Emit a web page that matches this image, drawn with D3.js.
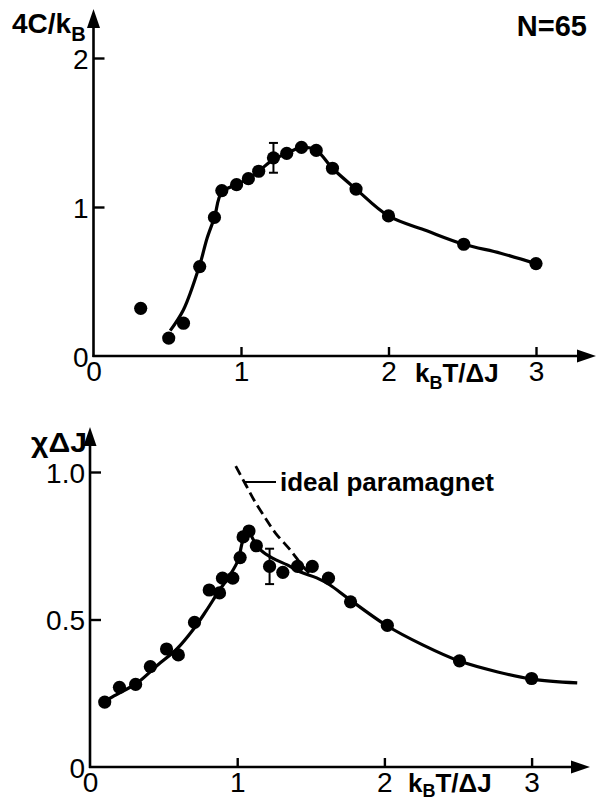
<!DOCTYPE html>
<html>
<head>
<meta charset="utf-8">
<script src="https://cdn.jsdelivr.net/npm/d3@7"></script>
<style>
  html, body { margin: 0; padding: 0; background: #fff; }
  svg { display: block; }
  .tick text { font-family: "Liberation Sans Narrow", "Liberation Sans", sans-serif; font-size: 28px; fill: #000; }
  .title { font-family: "Liberation Sans", "DejaVu Sans", sans-serif; font-weight: bold; fill: #000; }
</style>
</head>
<body>
<svg id="chart" width="598" height="801"></svg>
<script>
// ---------- Data ----------
// Top panel: specific heat 4C/kB vs kBT/ΔJ
const heatX = [0.32, 0.51, 0.61, 0.72, 0.82, 0.87, 0.97, 1.05, 1.12, 1.22, 1.31, 1.41, 1.51, 1.62, 1.78, 2.0, 2.51, 3.0];
const heatY = [0.32, 0.12, 0.22, 0.60, 0.93, 1.11, 1.15, 1.19, 1.24, 1.33, 1.36, 1.40, 1.38, 1.26, 1.12, 0.94, 0.75, 0.62];
const heatErrX = [1.22];
const heatErrLo = [1.23];
const heatErrHi = [1.43];
const heatFitX = [0.52, 0.61, 0.72, 0.77, 0.82, 0.87, 0.97, 1.05, 1.12, 1.22, 1.31, 1.41, 1.51, 1.62, 1.78, 2.0, 2.26, 2.51, 2.76, 3.0];
const heatFitY = [0.17, 0.31, 0.61, 0.79, 0.93, 1.10, 1.15, 1.19, 1.24, 1.32, 1.36, 1.40, 1.38, 1.26, 1.12, 0.94, 0.84, 0.75, 0.69, 0.62];

// Bottom panel: susceptibility χΔJ vs kBT/ΔJ
const chiX = [0.10, 0.20, 0.31, 0.41, 0.52, 0.60, 0.71, 0.81, 0.88, 0.90, 0.97, 1.02, 1.04, 1.08, 1.13, 1.22, 1.31, 1.41, 1.51, 1.62, 1.77, 2.02, 2.51, 3.0];
const chiY = [0.22, 0.27, 0.28, 0.34, 0.40, 0.38, 0.49, 0.60, 0.59, 0.64, 0.64, 0.71, 0.78, 0.80, 0.75, 0.68, 0.66, 0.68, 0.68, 0.64, 0.56, 0.48, 0.36, 0.30];
const chiErrX = [1.22];
const chiErrLo = [0.62];
const chiErrHi = [0.74];
const chiFitX = [0.10, 0.14, 0.32, 0.46, 0.59, 0.70, 0.79, 0.88, 0.95, 1.005, 1.04, 1.075, 1.11, 1.16, 1.24, 1.34, 1.43, 1.54, 1.63, 1.75, 2.02, 2.26, 2.51, 2.77, 3.0, 3.31];
const chiFitY = [0.22, 0.234, 0.285, 0.346, 0.40, 0.465, 0.53, 0.60, 0.65, 0.70, 0.77, 0.80, 0.77, 0.735, 0.708, 0.685, 0.661, 0.641, 0.617, 0.573, 0.478, 0.414, 0.359, 0.322, 0.298, 0.285];
const idealX = [0.99, 1.06, 1.12, 1.19, 1.26, 1.36, 1.45, 1.50];
const idealY = [1.02, 0.955, 0.90, 0.845, 0.793, 0.736, 0.678, 0.652];

// Tick labels
const heatYTicks = [0, 1, 2];
const chiYTicks = [0, 0.5, 1.0];
const xTicks = [0, 1, 2, 3];

// ---------- Drawing ----------
const svg = d3.select("#chart");

function drawPanel(cfg) {
  const g = svg.append("g");
  const x = d3.scaleLinear().domain([0, 3]).range(cfg.xRange);
  const y = d3.scaleLinear().domain(cfg.yDomain).range(cfg.yRange);
  const x0 = x(0), y0 = y(0);

  // axis lines with arrows
  g.append("line").attr("x1", x0).attr("y1", y0 + 1).attr("x2", x0).attr("y2", cfg.yTip + 14)
    .attr("stroke", "#000").attr("stroke-width", 2.6);
  g.append("path").attr("d", `M${x0},${cfg.yTip} L${x0 - 6.5},${cfg.yTip + 19} L${x0 + 6.5},${cfg.yTip + 19} Z`).attr("fill", "#000");
  g.append("line").attr("x1", x0 - 1).attr("y1", y0).attr("x2", cfg.xTip - 14).attr("y2", y0)
    .attr("stroke", "#000").attr("stroke-width", 2.6);
  g.append("path").attr("d", `M${cfg.xTip},${y0} L${cfg.xTip - 19},${y0 - 6.5} L${cfg.xTip - 19},${y0 + 6.5} Z`).attr("fill", "#000");

  // y axis ticks
  const ya = g.append("g").attr("transform", `translate(${x0},0)`)
    .call(d3.axisLeft(y).tickValues(cfg.yTicks).tickFormat(cfg.yFmt).tickSizeInner(-11).tickSizeOuter(0).tickPadding(5));
  ya.select(".domain").remove();
  ya.selectAll(".tick line").attr("stroke", "#000").attr("stroke-width", 2.4)
    .attr("display", d => d === 0 ? "none" : null);
  ya.selectAll(".tick text").attr("dy", "0.36em").attr("text-anchor", "end");

  // x axis ticks
  const xa = g.append("g").attr("transform", `translate(0,${y0})`)
    .call(d3.axisBottom(x).tickValues(xTicks).tickFormat(d3.format("d")).tickSizeInner(-9).tickSizeOuter(0).tickPadding(5));
  xa.select(".domain").remove();
  xa.selectAll(".tick line").attr("stroke", "#000").attr("stroke-width", 2.4)
    .attr("display", d => d === 0 ? "none" : null);

  // fit curve
  const line = d3.line().x(d => x(d[0])).y(d => y(d[1])).curve(d3.curveCatmullRom.alpha(0.5));
  g.append("path").datum(cfg.fitX.map((v, i) => [v, cfg.fitY[i]]))
    .attr("d", line).attr("fill", "none").attr("stroke", "#000").attr("stroke-width", 3.2);

  if (cfg.idealX) {
    g.append("path").datum(cfg.idealX.map((v, i) => [v, cfg.idealY[i]]))
      .attr("d", line).attr("fill", "none").attr("stroke", "#000").attr("stroke-width", 2.8)
      .attr("stroke-dasharray", "10,5");
  }

  // error bars
  cfg.errX.forEach((v, i) => {
    const xx = x(v), yl = y(cfg.errLo[i]), yh = y(cfg.errHi[i]);
    g.append("line").attr("x1", xx).attr("x2", xx).attr("y1", yl).attr("y2", yh).attr("stroke", "#000").attr("stroke-width", 2);
    g.append("line").attr("x1", xx - 4.5).attr("x2", xx + 4.5).attr("y1", yl).attr("y2", yl).attr("stroke", "#000").attr("stroke-width", 2);
    g.append("line").attr("x1", xx - 4.5).attr("x2", xx + 4.5).attr("y1", yh).attr("y2", yh).attr("stroke", "#000").attr("stroke-width", 2);
  });

  // data points
  g.selectAll("circle.pt").data(cfg.px.map((v, i) => [v, cfg.py[i]])).enter()
    .append("circle").attr("class", "pt")
    .attr("cx", d => x(d[0])).attr("cy", d => y(d[1])).attr("r", 6.6).attr("fill", "#000");

  // x title
  const xt = g.append("text").attr("class", "title").attr("x", cfg.xTitleX).attr("y", cfg.xTitleY).attr("font-size", 26);
  xt.append("tspan").text("k");
  xt.append("tspan").attr("font-size", 18).attr("dy", cfg.subDy).text("B");
  xt.append("tspan").attr("dy", -cfg.subDy).text("T/ΔJ");
  return { x, y, g };
}

const heatPanel = drawPanel({
  xRange: [93.5, 536], yDomain: [0, 2], yRange: [356, 58],
  yTip: 9, xTip: 596, yTicks: heatYTicks, yFmt: d3.format("d"),
  fitX: heatFitX, fitY: heatFitY, px: heatX, py: heatY,
  errX: heatErrX, errLo: heatErrLo, errHi: heatErrHi,
  xTitleX: 415, xTitleY: 382, subDy: 7
});

const chiPanel = drawPanel({
  xRange: [90, 531.6], yDomain: [0, 1], yRange: [767, 472],
  yTip: 427, xTip: 590, yTicks: chiYTicks, yFmt: d => d === 0 ? "0" : d3.format(".1f")(d),
  fitX: chiFitX, fitY: chiFitY, px: chiX, py: chiY,
  errX: chiErrX, errLo: chiErrLo, errHi: chiErrHi,
  idealX: idealX, idealY: idealY,
  xTitleX: 408, xTitleY: 792, subDy: 5
});

// y titles
const yt1 = svg.append("text").attr("class", "title").attr("x", 12).attr("y", 33).attr("font-size", 28);
yt1.append("tspan").text("4C/k");
yt1.append("tspan").attr("font-size", 20).attr("dy", 8).text("B");

svg.append("text").attr("class", "title").attr("x", 31).attr("y", 452).attr("font-size", 28)
  .attr("textLength", 56).attr("lengthAdjust", "spacingAndGlyphs").text("χΔJ");

// N=65
svg.append("text").attr("x", 587).attr("y", 36).attr("text-anchor", "end")
  .attr("font-family", "Liberation Sans, sans-serif").attr("font-size", 29).attr("font-weight", 600)
  .text("N=65");

// ideal paramagnet label
svg.append("line").attr("x1", 245).attr("y1", 482).attr("x2", 276).attr("y2", 482)
  .attr("stroke", "#000").attr("stroke-width", 2);
svg.append("text").attr("class", "title").attr("x", 280).attr("y", 491).attr("font-size", 26)
  .text("ideal paramagnet");
</script>
</body>
</html>
